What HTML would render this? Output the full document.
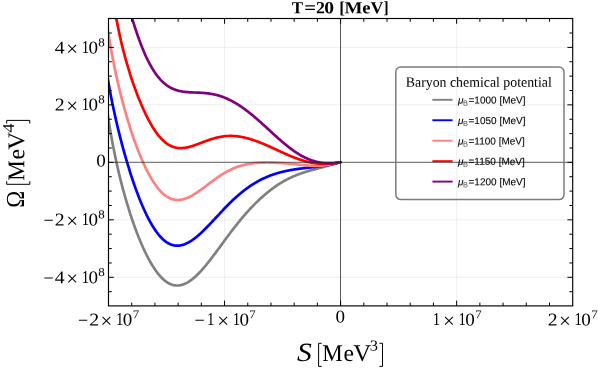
<!DOCTYPE html>
<html><head><meta charset="utf-8"><title>plot</title>
<style>html,body{margin:0;padding:0;background:#fff;}body{width:598px;height:373px;position:relative;overflow:hidden;font-family:"Liberation Serif",serif;}</style>
</head><body>
<svg width="598" height="373" viewBox="0 0 598 373" style="position:absolute;left:0;top:0;text-rendering:geometricPrecision;will-change:transform">
<rect width="598" height="373" fill="#fff"/>
<defs><clipPath id="c"><rect x="108.5" y="18.5" width="464.20000000000005" height="287.4"/></clipPath></defs>
<line x1="224.55" x2="224.55" y1="18.5" y2="305.9" stroke="#e8e8e8" stroke-width="0.7"/>
<line x1="456.65" x2="456.65" y1="18.5" y2="305.9" stroke="#e8e8e8" stroke-width="0.7"/>
<line y1="277.31" y2="277.31" x1="108.5" x2="572.7" stroke="#e8e8e8" stroke-width="0.7"/>
<line y1="219.83" y2="219.83" x1="108.5" x2="572.7" stroke="#e8e8e8" stroke-width="0.7"/>
<line y1="104.87" y2="104.87" x1="108.5" x2="572.7" stroke="#e8e8e8" stroke-width="0.7"/>
<line y1="47.39" y2="47.39" x1="108.5" x2="572.7" stroke="#e8e8e8" stroke-width="0.7"/>
<g clip-path="url(#c)" fill="none" stroke-width="2.7" stroke-linejoin="round" stroke-linecap="round">
<path d="M106.5,106.8 L107.0,110.2 L107.5,113.5 L108.0,116.7 L108.5,119.9 L109.0,123.0 L109.5,126.0 L110.0,129.0 L110.5,131.9 L111.0,134.7 L111.5,137.5 L112.0,140.2 L112.5,142.9 L113.0,145.5 L113.5,148.1 L114.0,150.6 L114.5,153.1 L115.0,155.5 L115.5,157.9 L116.0,160.3 L116.5,162.6 L117.0,164.8 L117.5,167.0 L118.0,169.2 L118.5,171.4 L119.0,173.5 L119.5,175.6 L120.0,177.6 L120.5,179.6 L121.0,181.6 L121.5,183.6 L122.0,185.5 L122.5,187.4 L123.0,189.3 L123.5,191.1 L124.0,192.9 L124.5,194.7 L125.0,196.5 L125.5,198.2 L126.0,199.9 L126.5,201.6 L127.0,203.3 L127.5,204.9 L128.0,206.6 L128.5,208.2 L129.0,209.8 L129.5,211.3 L129.9,212.9 L130.4,214.4 L130.9,215.9 L131.4,217.4 L131.9,218.9 L132.4,220.4 L132.9,221.8 L133.4,223.2 L133.9,224.6 L134.4,226.0 L134.9,227.4 L135.4,228.7 L135.9,230.1 L136.4,231.4 L136.9,232.7 L137.4,234.0 L137.9,235.3 L138.4,236.5 L138.9,237.8 L139.4,239.0 L139.9,240.2 L140.4,241.4 L140.9,242.6 L141.4,243.8 L141.9,244.9 L142.4,246.0 L142.9,247.2 L143.4,248.3 L143.9,249.3 L144.4,250.4 L144.9,251.5 L145.4,252.5 L145.9,253.5 L146.4,254.6 L146.9,255.6 L147.4,256.5 L147.9,257.5 L148.4,258.5 L148.9,259.4 L149.4,260.3 L149.9,261.2 L150.4,262.1 L150.9,263.0 L151.4,263.8 L151.9,264.7 L152.4,265.5 L152.9,266.3 L153.4,267.1 L153.9,267.8 L154.4,268.6 L154.9,269.3 L155.4,270.1 L155.9,270.8 L156.4,271.5 L156.9,272.1 L157.4,272.8 L157.9,273.4 L158.4,274.1 L158.9,274.7 L159.4,275.3 L159.9,275.8 L160.4,276.4 L160.9,277.0 L161.4,277.5 L161.9,278.0 L162.4,278.5 L162.9,279.0 L163.4,279.4 L163.9,279.9 L164.4,280.3 L164.9,280.7 L165.4,281.1 L165.9,281.5 L166.4,281.8 L166.9,282.2 L167.4,282.5 L167.9,282.8 L168.4,283.1 L168.9,283.4 L169.4,283.6 L169.9,283.9 L170.4,284.1 L170.9,284.3 L171.4,284.5 L171.9,284.7 L172.4,284.8 L172.9,285.0 L173.4,285.1 L173.9,285.2 L174.4,285.3 L174.9,285.4 L175.4,285.4 L175.9,285.5 L176.4,285.5 L176.8,285.5 L177.3,285.5 L177.8,285.5 L178.3,285.5 L178.8,285.5 L179.3,285.4 L179.8,285.3 L180.3,285.2 L180.8,285.1 L181.3,285.0 L181.8,284.9 L182.3,284.8 L182.8,284.6 L183.3,284.4 L183.8,284.2 L184.3,284.0 L184.8,283.8 L185.3,283.6 L185.8,283.4 L186.3,283.1 L186.8,282.9 L187.3,282.6 L187.8,282.3 L188.3,282.0 L188.8,281.7 L189.3,281.4 L189.8,281.0 L190.3,280.7 L190.8,280.3 L191.3,279.9 L191.8,279.6 L192.3,279.2 L192.8,278.8 L193.3,278.4 L193.8,277.9 L194.3,277.5 L194.8,277.1 L195.3,276.6 L195.8,276.2 L196.3,275.7 L196.8,275.2 L197.3,274.7 L197.8,274.2 L198.3,273.7 L198.8,273.2 L199.3,272.7 L199.8,272.2 L200.3,271.7 L200.8,271.1 L201.3,270.6 L201.8,270.0 L202.3,269.5 L202.8,268.9 L203.3,268.3 L203.8,267.7 L204.3,267.2 L204.8,266.6 L205.3,266.0 L205.8,265.4 L206.3,264.8 L206.8,264.1 L207.3,263.5 L207.8,262.9 L208.3,262.3 L208.8,261.7 L209.3,261.0 L209.8,260.4 L210.3,259.7 L210.8,259.1 L211.3,258.4 L211.8,257.8 L212.3,257.1 L212.8,256.5 L213.3,255.8 L213.8,255.2 L214.3,254.5 L214.8,253.8 L215.3,253.2 L215.8,252.5 L216.3,251.8 L216.8,251.2 L217.3,250.5 L217.8,249.8 L218.3,249.1 L218.8,248.5 L219.3,247.8 L219.8,247.1 L220.3,246.4 L220.8,245.7 L221.3,245.1 L221.8,244.4 L222.3,243.7 L222.8,243.0 L223.3,242.3 L223.7,241.7 L224.2,241.0 L224.7,240.3 L225.2,239.6 L225.7,239.0 L226.2,238.3 L226.7,237.6 L227.2,237.0 L227.7,236.3 L228.2,235.6 L228.7,234.9 L229.2,234.3 L229.7,233.6 L230.2,233.0 L230.7,232.3 L231.2,231.6 L231.7,231.0 L232.2,230.3 L232.7,229.7 L233.2,229.0 L233.7,228.4 L234.2,227.7 L234.7,227.1 L235.2,226.5 L235.7,225.8 L236.2,225.2 L236.7,224.6 L237.2,223.9 L237.7,223.3 L238.2,222.7 L238.7,222.1 L239.2,221.5 L239.7,220.9 L240.2,220.2 L240.7,219.6 L241.2,219.0 L241.7,218.4 L242.2,217.8 L242.7,217.3 L243.2,216.7 L243.7,216.1 L244.2,215.5 L244.7,214.9 L245.2,214.3 L245.7,213.8 L246.2,213.2 L246.7,212.6 L247.2,212.1 L247.7,211.5 L248.2,211.0 L248.7,210.4 L249.2,209.9 L249.7,209.3 L250.2,208.8 L250.7,208.3 L251.2,207.7 L251.7,207.2 L252.2,206.7 L252.7,206.2 L253.2,205.6 L253.7,205.1 L254.2,204.6 L254.7,204.1 L255.2,203.6 L255.7,203.1 L256.2,202.6 L256.7,202.1 L257.2,201.7 L257.7,201.2 L258.2,200.7 L258.7,200.2 L259.2,199.7 L259.7,199.3 L260.2,198.8 L260.7,198.4 L261.2,197.9 L261.7,197.5 L262.2,197.0 L262.7,196.6 L263.2,196.1 L263.7,195.7 L264.2,195.3 L264.7,194.8 L265.2,194.4 L265.7,194.0 L266.2,193.6 L266.7,193.1 L267.2,192.7 L267.7,192.3 L268.2,191.9 L268.7,191.5 L269.2,191.1 L269.7,190.7 L270.2,190.4 L270.6,190.0 L271.1,189.6 L271.6,189.2 L272.1,188.8 L272.6,188.5 L273.1,188.1 L273.6,187.8 L274.1,187.4 L274.6,187.0 L275.1,186.7 L275.6,186.3 L276.1,186.0 L276.6,185.7 L277.1,185.3 L277.6,185.0 L278.1,184.7 L278.6,184.3 L279.1,184.0 L279.6,183.7 L280.1,183.4 L280.6,183.1 L281.1,182.8 L281.6,182.5 L282.1,182.2 L282.6,181.9 L283.1,181.6 L283.6,181.3 L284.1,181.0 L284.6,180.7 L285.1,180.5 L285.6,180.2 L286.1,179.9 L286.6,179.7 L287.1,179.4 L287.6,179.1 L288.1,178.9 L288.6,178.6 L289.1,178.4 L289.6,178.1 L290.1,177.9 L290.6,177.7 L291.1,177.4 L291.6,177.2 L292.1,177.0 L292.6,176.7 L293.1,176.5 L293.6,176.3 L294.1,176.1 L294.6,175.9 L295.1,175.7 L295.6,175.5 L296.1,175.2 L296.6,175.0 L297.1,174.9 L297.6,174.7 L298.1,174.5 L298.6,174.3 L299.1,174.1 L299.6,173.9 L300.1,173.7 L300.6,173.6 L301.1,173.4 L301.6,173.2 L302.1,173.0 L302.6,172.9 L303.1,172.7 L303.6,172.5 L304.1,172.4 L304.6,172.2 L305.1,172.1 L305.6,171.9 L306.1,171.8 L306.6,171.6 L307.1,171.5 L307.6,171.3 L308.1,171.2 L308.6,171.0 L309.1,170.9 L309.6,170.7 L310.1,170.6 L310.6,170.4 L311.1,170.3 L311.6,170.2 L312.1,170.0 L312.6,169.9 L313.1,169.8 L313.6,169.6 L314.1,169.5 L314.6,169.4 L315.1,169.2 L315.6,169.1 L316.1,169.0 L316.6,168.8 L317.1,168.7 L317.5,168.6 L318.0,168.4 L318.5,168.3 L319.0,168.2 L319.5,168.0 L320.0,167.9 L320.5,167.8 L321.0,167.6 L321.5,167.5 L322.0,167.4 L322.5,167.2 L323.0,167.1 L323.5,167.0 L324.0,166.8 L324.5,166.7 L325.0,166.5 L325.5,166.4 L326.0,166.3 L326.5,166.1 L327.0,166.0 L327.5,165.8 L328.0,165.7 L328.5,165.5 L329.0,165.4 L329.5,165.2 L330.0,165.1 L330.5,165.0 L331.0,164.8 L331.5,164.7 L332.0,164.5 L332.5,164.4 L333.0,164.2 L333.5,164.1 L334.0,163.9 L334.5,163.8 L335.0,163.6 L335.5,163.5 L336.0,163.3 L336.5,163.2 L337.0,163.1 L337.5,162.9 L338.0,162.8 L338.5,162.7 L339.0,162.6 L339.5,162.5 L340.0,162.4 L340.5,162.2" stroke="#808080"/>
<path d="M106.5,71.1 L107.0,74.2 L107.5,77.1 L108.0,80.0 L108.5,82.9 L109.0,85.7 L109.5,88.4 L110.0,91.1 L110.5,93.8 L111.0,96.4 L111.5,98.9 L112.0,101.4 L112.5,103.9 L113.0,106.3 L113.5,108.7 L114.0,111.0 L114.5,113.3 L115.0,115.6 L115.5,117.8 L116.0,120.1 L116.5,122.2 L117.0,124.4 L117.5,126.5 L118.0,128.6 L118.5,130.6 L119.0,132.6 L119.5,134.6 L120.0,136.6 L120.5,138.6 L121.0,140.5 L121.5,142.4 L122.0,144.3 L122.5,146.1 L123.0,148.0 L123.5,149.8 L124.0,151.6 L124.5,153.4 L125.0,155.1 L125.5,156.9 L126.0,158.6 L126.5,160.3 L127.0,162.0 L127.5,163.6 L128.0,165.3 L128.5,166.9 L129.0,168.5 L129.5,170.1 L129.9,171.7 L130.4,173.2 L130.9,174.8 L131.4,176.3 L131.9,177.8 L132.4,179.3 L132.9,180.8 L133.4,182.2 L133.9,183.7 L134.4,185.1 L134.9,186.5 L135.4,187.9 L135.9,189.3 L136.4,190.6 L136.9,192.0 L137.4,193.3 L137.9,194.6 L138.4,195.9 L138.9,197.2 L139.4,198.5 L139.9,199.7 L140.4,201.0 L140.9,202.2 L141.4,203.4 L141.9,204.6 L142.4,205.8 L142.9,206.9 L143.4,208.0 L143.9,209.2 L144.4,210.3 L144.9,211.4 L145.4,212.4 L145.9,213.5 L146.4,214.5 L146.9,215.6 L147.4,216.6 L147.9,217.6 L148.4,218.5 L148.9,219.5 L149.4,220.4 L149.9,221.4 L150.4,222.3 L150.9,223.1 L151.4,224.0 L151.9,224.9 L152.4,225.7 L152.9,226.5 L153.4,227.3 L153.9,228.1 L154.4,228.9 L154.9,229.6 L155.4,230.4 L155.9,231.1 L156.4,231.8 L156.9,232.5 L157.4,233.1 L157.9,233.8 L158.4,234.4 L158.9,235.0 L159.4,235.6 L159.9,236.2 L160.4,236.7 L160.9,237.3 L161.4,237.8 L161.9,238.3 L162.4,238.8 L162.9,239.2 L163.4,239.7 L163.9,240.1 L164.4,240.6 L164.9,241.0 L165.4,241.3 L165.9,241.7 L166.4,242.1 L166.9,242.4 L167.4,242.7 L167.9,243.0 L168.4,243.3 L168.9,243.6 L169.4,243.8 L169.9,244.1 L170.4,244.3 L170.9,244.5 L171.4,244.7 L171.9,244.8 L172.4,245.0 L172.9,245.1 L173.4,245.3 L173.9,245.4 L174.4,245.5 L174.9,245.5 L175.4,245.6 L175.9,245.6 L176.4,245.7 L176.8,245.7 L177.3,245.7 L177.8,245.7 L178.3,245.7 L178.8,245.6 L179.3,245.6 L179.8,245.5 L180.3,245.5 L180.8,245.4 L181.3,245.3 L181.8,245.1 L182.3,245.0 L182.8,244.9 L183.3,244.7 L183.8,244.6 L184.3,244.4 L184.8,244.2 L185.3,244.0 L185.8,243.8 L186.3,243.6 L186.8,243.3 L187.3,243.1 L187.8,242.8 L188.3,242.6 L188.8,242.3 L189.3,242.0 L189.8,241.7 L190.3,241.4 L190.8,241.1 L191.3,240.8 L191.8,240.4 L192.3,240.1 L192.8,239.7 L193.3,239.4 L193.8,239.0 L194.3,238.6 L194.8,238.3 L195.3,237.9 L195.8,237.5 L196.3,237.1 L196.8,236.7 L197.3,236.2 L197.8,235.8 L198.3,235.4 L198.8,235.0 L199.3,234.5 L199.8,234.1 L200.3,233.6 L200.8,233.1 L201.3,232.7 L201.8,232.2 L202.3,231.7 L202.8,231.3 L203.3,230.8 L203.8,230.3 L204.3,229.8 L204.8,229.3 L205.3,228.8 L205.8,228.3 L206.3,227.8 L206.8,227.3 L207.3,226.8 L207.8,226.3 L208.3,225.7 L208.8,225.2 L209.3,224.7 L209.8,224.2 L210.3,223.7 L210.8,223.1 L211.3,222.6 L211.8,222.1 L212.3,221.5 L212.8,221.0 L213.3,220.5 L213.8,219.9 L214.3,219.4 L214.8,218.9 L215.3,218.3 L215.8,217.8 L216.3,217.3 L216.8,216.7 L217.3,216.2 L217.8,215.7 L218.3,215.1 L218.8,214.6 L219.3,214.1 L219.8,213.5 L220.3,213.0 L220.8,212.5 L221.3,211.9 L221.8,211.4 L222.3,210.9 L222.8,210.3 L223.3,209.8 L223.7,209.3 L224.2,208.8 L224.7,208.3 L225.2,207.7 L225.7,207.2 L226.2,206.7 L226.7,206.2 L227.2,205.7 L227.7,205.2 L228.2,204.7 L228.7,204.2 L229.2,203.7 L229.7,203.2 L230.2,202.7 L230.7,202.2 L231.2,201.8 L231.7,201.3 L232.2,200.8 L232.7,200.3 L233.2,199.8 L233.7,199.4 L234.2,198.9 L234.7,198.5 L235.2,198.0 L235.7,197.5 L236.2,197.1 L236.7,196.6 L237.2,196.2 L237.7,195.8 L238.2,195.3 L238.7,194.9 L239.2,194.5 L239.7,194.0 L240.2,193.6 L240.7,193.2 L241.2,192.8 L241.7,192.4 L242.2,192.0 L242.7,191.6 L243.2,191.2 L243.7,190.8 L244.2,190.4 L244.7,190.0 L245.2,189.6 L245.7,189.3 L246.2,188.9 L246.7,188.5 L247.2,188.1 L247.7,187.8 L248.2,187.4 L248.7,187.1 L249.2,186.7 L249.7,186.4 L250.2,186.0 L250.7,185.7 L251.2,185.4 L251.7,185.0 L252.2,184.7 L252.7,184.4 L253.2,184.1 L253.7,183.8 L254.2,183.5 L254.7,183.2 L255.2,182.9 L255.7,182.6 L256.2,182.3 L256.7,182.0 L257.2,181.7 L257.7,181.4 L258.2,181.2 L258.7,180.9 L259.2,180.6 L259.7,180.3 L260.2,180.1 L260.7,179.8 L261.2,179.6 L261.7,179.3 L262.2,179.1 L262.7,178.8 L263.2,178.6 L263.7,178.4 L264.2,178.1 L264.7,177.9 L265.2,177.7 L265.7,177.5 L266.2,177.2 L266.7,177.0 L267.2,176.8 L267.7,176.6 L268.2,176.4 L268.7,176.2 L269.2,176.0 L269.7,175.8 L270.2,175.6 L270.6,175.4 L271.1,175.3 L271.6,175.1 L272.1,174.9 L272.6,174.7 L273.1,174.5 L273.6,174.4 L274.1,174.2 L274.6,174.0 L275.1,173.9 L275.6,173.7 L276.1,173.6 L276.6,173.4 L277.1,173.3 L277.6,173.1 L278.1,173.0 L278.6,172.8 L279.1,172.7 L279.6,172.6 L280.1,172.4 L280.6,172.3 L281.1,172.2 L281.6,172.0 L282.1,171.9 L282.6,171.8 L283.1,171.7 L283.6,171.6 L284.1,171.4 L284.6,171.3 L285.1,171.2 L285.6,171.1 L286.1,171.0 L286.6,170.9 L287.1,170.8 L287.6,170.7 L288.1,170.6 L288.6,170.5 L289.1,170.4 L289.6,170.3 L290.1,170.2 L290.6,170.1 L291.1,170.0 L291.6,169.9 L292.1,169.8 L292.6,169.8 L293.1,169.7 L293.6,169.6 L294.1,169.5 L294.6,169.4 L295.1,169.4 L295.6,169.3 L296.1,169.2 L296.6,169.1 L297.1,169.1 L297.6,169.0 L298.1,168.9 L298.6,168.9 L299.1,168.8 L299.6,168.7 L300.1,168.7 L300.6,168.6 L301.1,168.5 L301.6,168.5 L302.1,168.4 L302.6,168.3 L303.1,168.3 L303.6,168.2 L304.1,168.2 L304.6,168.1 L305.1,168.0 L305.6,168.0 L306.1,167.9 L306.6,167.9 L307.1,167.8 L307.6,167.7 L308.1,167.7 L308.6,167.6 L309.1,167.6 L309.6,167.5 L310.1,167.5 L310.6,167.4 L311.1,167.3 L311.6,167.3 L312.1,167.2 L312.6,167.2 L313.1,167.1 L313.6,167.1 L314.1,167.0 L314.6,166.9 L315.1,166.9 L315.6,166.8 L316.1,166.8 L316.6,166.7 L317.1,166.6 L317.5,166.6 L318.0,166.5 L318.5,166.4 L319.0,166.4 L319.5,166.3 L320.0,166.2 L320.5,166.2 L321.0,166.1 L321.5,166.0 L322.0,166.0 L322.5,165.9 L323.0,165.8 L323.5,165.8 L324.0,165.7 L324.5,165.6 L325.0,165.5 L325.5,165.4 L326.0,165.4 L326.5,165.3 L327.0,165.2 L327.5,165.1 L328.0,165.0 L328.5,164.9 L329.0,164.8 L329.5,164.7 L330.0,164.7 L330.5,164.6 L331.0,164.5 L331.5,164.4 L332.0,164.3 L332.5,164.2 L333.0,164.1 L333.5,163.9 L334.0,163.8 L334.5,163.7 L335.0,163.6 L335.5,163.5 L336.0,163.4 L336.5,163.3 L337.0,163.1 L337.5,163.0 L338.0,162.9 L338.5,162.8 L339.0,162.6 L339.5,162.5 L340.0,162.4 L340.5,162.2" stroke="#0000ff"/>
<path d="M106.5,21.6 L107.0,24.9 L107.5,28.1 L108.0,31.3 L108.5,34.4 L109.0,37.4 L109.5,40.4 L110.0,43.3 L110.5,46.2 L111.0,49.0 L111.5,51.7 L112.0,54.4 L112.5,57.1 L113.0,59.7 L113.5,62.2 L114.0,64.7 L114.5,67.2 L115.0,69.6 L115.5,71.9 L116.0,74.3 L116.5,76.6 L117.0,78.8 L117.5,81.0 L118.0,83.2 L118.5,85.4 L119.0,87.5 L119.5,89.5 L120.0,91.6 L120.5,93.6 L121.0,95.6 L121.5,97.6 L122.0,99.5 L122.5,101.4 L123.0,103.3 L123.5,105.1 L124.0,107.0 L124.5,108.8 L125.0,110.6 L125.5,112.3 L126.0,114.0 L126.5,115.8 L127.0,117.5 L127.5,119.1 L128.0,120.8 L128.5,122.4 L129.0,124.0 L129.5,125.6 L129.9,127.2 L130.4,128.7 L130.9,130.3 L131.4,131.8 L131.9,133.3 L132.4,134.8 L132.9,136.2 L133.4,137.7 L133.9,139.1 L134.4,140.5 L134.9,141.9 L135.4,143.3 L135.9,144.6 L136.4,146.0 L136.9,147.3 L137.4,148.6 L137.9,149.9 L138.4,151.2 L138.9,152.4 L139.4,153.7 L139.9,154.9 L140.4,156.1 L140.9,157.3 L141.4,158.5 L141.9,159.7 L142.4,160.8 L142.9,161.9 L143.4,163.1 L143.9,164.2 L144.4,165.2 L144.9,166.3 L145.4,167.4 L145.9,168.4 L146.4,169.4 L146.9,170.4 L147.4,171.4 L147.9,172.4 L148.4,173.3 L148.9,174.2 L149.4,175.2 L149.9,176.1 L150.4,176.9 L150.9,177.8 L151.4,178.7 L151.9,179.5 L152.4,180.3 L152.9,181.1 L153.4,181.9 L153.9,182.6 L154.4,183.4 L154.9,184.1 L155.4,184.8 L155.9,185.5 L156.4,186.2 L156.9,186.9 L157.4,187.5 L157.9,188.2 L158.4,188.8 L158.9,189.4 L159.4,189.9 L159.9,190.5 L160.4,191.1 L160.9,191.6 L161.4,192.1 L161.9,192.6 L162.4,193.1 L162.9,193.5 L163.4,194.0 L163.9,194.4 L164.4,194.8 L164.9,195.2 L165.4,195.6 L165.9,195.9 L166.4,196.3 L166.9,196.6 L167.4,196.9 L167.9,197.2 L168.4,197.5 L168.9,197.8 L169.4,198.0 L169.9,198.3 L170.4,198.5 L170.9,198.7 L171.4,198.9 L171.9,199.0 L172.4,199.2 L172.9,199.3 L173.4,199.5 L173.9,199.6 L174.4,199.7 L174.9,199.8 L175.4,199.8 L175.9,199.9 L176.4,199.9 L176.8,200.0 L177.3,200.0 L177.8,200.0 L178.3,200.0 L178.8,200.0 L179.3,199.9 L179.8,199.9 L180.3,199.8 L180.8,199.8 L181.3,199.7 L181.8,199.6 L182.3,199.5 L182.8,199.4 L183.3,199.3 L183.8,199.1 L184.3,199.0 L184.8,198.8 L185.3,198.6 L185.8,198.5 L186.3,198.3 L186.8,198.1 L187.3,197.9 L187.8,197.7 L188.3,197.4 L188.8,197.2 L189.3,197.0 L189.8,196.7 L190.3,196.5 L190.8,196.2 L191.3,196.0 L191.8,195.7 L192.3,195.4 L192.8,195.1 L193.3,194.8 L193.8,194.5 L194.3,194.2 L194.8,193.9 L195.3,193.6 L195.8,193.3 L196.3,192.9 L196.8,192.6 L197.3,192.3 L197.8,191.9 L198.3,191.6 L198.8,191.2 L199.3,190.9 L199.8,190.5 L200.3,190.2 L200.8,189.8 L201.3,189.4 L201.8,189.1 L202.3,188.7 L202.8,188.3 L203.3,188.0 L203.8,187.6 L204.3,187.2 L204.8,186.9 L205.3,186.5 L205.8,186.1 L206.3,185.7 L206.8,185.3 L207.3,185.0 L207.8,184.6 L208.3,184.2 L208.8,183.8 L209.3,183.5 L209.8,183.1 L210.3,182.7 L210.8,182.3 L211.3,182.0 L211.8,181.6 L212.3,181.2 L212.8,180.9 L213.3,180.5 L213.8,180.1 L214.3,179.8 L214.8,179.4 L215.3,179.1 L215.8,178.7 L216.3,178.3 L216.8,178.0 L217.3,177.7 L217.8,177.3 L218.3,177.0 L218.8,176.6 L219.3,176.3 L219.8,176.0 L220.3,175.6 L220.8,175.3 L221.3,175.0 L221.8,174.7 L222.3,174.4 L222.8,174.1 L223.3,173.8 L223.7,173.5 L224.2,173.2 L224.7,172.9 L225.2,172.6 L225.7,172.3 L226.2,172.0 L226.7,171.7 L227.2,171.5 L227.7,171.2 L228.2,170.9 L228.7,170.7 L229.2,170.4 L229.7,170.2 L230.2,169.9 L230.7,169.7 L231.2,169.5 L231.7,169.2 L232.2,169.0 L232.7,168.8 L233.2,168.6 L233.7,168.3 L234.2,168.1 L234.7,167.9 L235.2,167.7 L235.7,167.5 L236.2,167.3 L236.7,167.2 L237.2,167.0 L237.7,166.8 L238.2,166.6 L238.7,166.5 L239.2,166.3 L239.7,166.1 L240.2,166.0 L240.7,165.8 L241.2,165.7 L241.7,165.5 L242.2,165.4 L242.7,165.3 L243.2,165.1 L243.7,165.0 L244.2,164.9 L244.7,164.8 L245.2,164.7 L245.7,164.5 L246.2,164.4 L246.7,164.3 L247.2,164.2 L247.7,164.1 L248.2,164.0 L248.7,164.0 L249.2,163.9 L249.7,163.8 L250.2,163.7 L250.7,163.6 L251.2,163.6 L251.7,163.5 L252.2,163.4 L252.7,163.4 L253.2,163.3 L253.7,163.2 L254.2,163.2 L254.7,163.1 L255.2,163.1 L255.7,163.0 L256.2,163.0 L256.7,162.9 L257.2,162.9 L257.7,162.9 L258.2,162.8 L258.7,162.8 L259.2,162.8 L259.7,162.7 L260.2,162.7 L260.7,162.7 L261.2,162.7 L261.7,162.6 L262.2,162.6 L262.7,162.6 L263.2,162.6 L263.7,162.6 L264.2,162.6 L264.7,162.6 L265.2,162.6 L265.7,162.5 L266.2,162.5 L266.7,162.5 L267.2,162.5 L267.7,162.5 L268.2,162.5 L268.7,162.5 L269.2,162.6 L269.7,162.6 L270.2,162.6 L270.6,162.6 L271.1,162.6 L271.6,162.6 L272.1,162.6 L272.6,162.6 L273.1,162.6 L273.6,162.7 L274.1,162.7 L274.6,162.7 L275.1,162.7 L275.6,162.7 L276.1,162.8 L276.6,162.8 L277.1,162.8 L277.6,162.8 L278.1,162.8 L278.6,162.9 L279.1,162.9 L279.6,162.9 L280.1,163.0 L280.6,163.0 L281.1,163.0 L281.6,163.1 L282.1,163.1 L282.6,163.1 L283.1,163.2 L283.6,163.2 L284.1,163.2 L284.6,163.3 L285.1,163.3 L285.6,163.3 L286.1,163.4 L286.6,163.4 L287.1,163.5 L287.6,163.5 L288.1,163.6 L288.6,163.6 L289.1,163.6 L289.6,163.7 L290.1,163.7 L290.6,163.8 L291.1,163.8 L291.6,163.9 L292.1,163.9 L292.6,164.0 L293.1,164.0 L293.6,164.1 L294.1,164.1 L294.6,164.2 L295.1,164.2 L295.6,164.3 L296.1,164.3 L296.6,164.4 L297.1,164.4 L297.6,164.5 L298.1,164.5 L298.6,164.6 L299.1,164.6 L299.6,164.7 L300.1,164.7 L300.6,164.8 L301.1,164.8 L301.6,164.9 L302.1,164.9 L302.6,165.0 L303.1,165.0 L303.6,165.1 L304.1,165.1 L304.6,165.2 L305.1,165.2 L305.6,165.3 L306.1,165.3 L306.6,165.4 L307.1,165.4 L307.6,165.4 L308.1,165.5 L308.6,165.5 L309.1,165.6 L309.6,165.6 L310.1,165.6 L310.6,165.7 L311.1,165.7 L311.6,165.7 L312.1,165.7 L312.6,165.8 L313.1,165.8 L313.6,165.8 L314.1,165.8 L314.6,165.8 L315.1,165.8 L315.6,165.8 L316.1,165.8 L316.6,165.8 L317.1,165.8 L317.5,165.8 L318.0,165.8 L318.5,165.8 L319.0,165.8 L319.5,165.8 L320.0,165.7 L320.5,165.7 L321.0,165.7 L321.5,165.6 L322.0,165.6 L322.5,165.5 L323.0,165.5 L323.5,165.4 L324.0,165.4 L324.5,165.3 L325.0,165.3 L325.5,165.2 L326.0,165.1 L326.5,165.0 L327.0,164.9 L327.5,164.9 L328.0,164.8 L328.5,164.7 L329.0,164.6 L329.5,164.5 L330.0,164.4 L330.5,164.3 L331.0,164.2 L331.5,164.1 L332.0,163.9 L332.5,163.8 L333.0,163.7 L333.5,163.6 L334.0,163.5 L334.5,163.4 L335.0,163.3 L335.5,163.1 L336.0,163.0 L336.5,162.9 L337.0,162.8 L337.5,162.7 L338.0,162.6 L338.5,162.5 L339.0,162.5 L339.5,162.4 L340.0,162.3 L340.5,162.2" stroke="#ff8080"/>
<path d="M108.5,-36.4 L109.0,-31.9 L109.5,-27.7 L110.0,-23.5 L110.5,-19.5 L111.0,-15.7 L111.5,-12.0 L112.0,-8.4 L112.5,-4.9 L113.0,-1.5 L113.5,1.7 L114.0,4.9 L114.5,8.0 L115.0,10.9 L115.5,13.8 L116.0,16.6 L116.5,19.4 L117.0,22.0 L117.5,24.6 L118.0,27.1 L118.5,29.6 L119.0,31.9 L119.5,34.3 L120.0,36.5 L120.5,38.8 L121.0,40.9 L121.5,43.1 L122.0,45.1 L122.5,47.2 L123.0,49.2 L123.5,51.1 L124.0,53.0 L124.5,54.9 L125.0,56.8 L125.5,58.6 L126.0,60.3 L126.5,62.1 L127.0,63.8 L127.5,65.5 L128.0,67.2 L128.5,68.8 L129.0,70.4 L129.5,72.0 L129.9,73.6 L130.4,75.2 L130.9,76.7 L131.4,78.2 L131.9,79.7 L132.4,81.2 L132.9,82.6 L133.4,84.0 L133.9,85.5 L134.4,86.8 L134.9,88.2 L135.4,89.6 L135.9,90.9 L136.4,92.3 L136.9,93.6 L137.4,94.9 L137.9,96.2 L138.4,97.4 L138.9,98.7 L139.4,99.9 L139.9,101.1 L140.4,102.3 L140.9,103.5 L141.4,104.7 L141.9,105.9 L142.4,107.0 L142.9,108.1 L143.4,109.3 L143.9,110.4 L144.4,111.4 L144.9,112.5 L145.4,113.6 L145.9,114.6 L146.4,115.6 L146.9,116.6 L147.4,117.6 L147.9,118.6 L148.4,119.6 L148.9,120.5 L149.4,121.4 L149.9,122.3 L150.4,123.2 L150.9,124.1 L151.4,125.0 L151.9,125.8 L152.4,126.7 L152.9,127.5 L153.4,128.3 L153.9,129.1 L154.4,129.8 L154.9,130.6 L155.4,131.3 L155.9,132.0 L156.4,132.7 L156.9,133.4 L157.4,134.1 L157.9,134.7 L158.4,135.3 L158.9,136.0 L159.4,136.6 L159.9,137.1 L160.4,137.7 L160.9,138.3 L161.4,138.8 L161.9,139.3 L162.4,139.8 L162.9,140.3 L163.4,140.8 L163.9,141.2 L164.4,141.7 L164.9,142.1 L165.4,142.5 L165.9,142.9 L166.4,143.3 L166.9,143.6 L167.4,144.0 L167.9,144.3 L168.4,144.6 L168.9,144.9 L169.4,145.2 L169.9,145.5 L170.4,145.7 L170.9,146.0 L171.4,146.2 L171.9,146.4 L172.4,146.6 L172.9,146.8 L173.4,147.0 L173.9,147.1 L174.4,147.3 L174.9,147.4 L175.4,147.5 L175.9,147.6 L176.4,147.7 L176.8,147.8 L177.3,147.9 L177.8,148.0 L178.3,148.0 L178.8,148.0 L179.3,148.1 L179.8,148.1 L180.3,148.1 L180.8,148.1 L181.3,148.1 L181.8,148.1 L182.3,148.1 L182.8,148.0 L183.3,148.0 L183.8,147.9 L184.3,147.9 L184.8,147.8 L185.3,147.7 L185.8,147.6 L186.3,147.6 L186.8,147.5 L187.3,147.4 L187.8,147.2 L188.3,147.1 L188.8,147.0 L189.3,146.9 L189.8,146.7 L190.3,146.6 L190.8,146.5 L191.3,146.3 L191.8,146.2 L192.3,146.0 L192.8,145.9 L193.3,145.7 L193.8,145.5 L194.3,145.4 L194.8,145.2 L195.3,145.0 L195.8,144.8 L196.3,144.7 L196.8,144.5 L197.3,144.3 L197.8,144.1 L198.3,143.9 L198.8,143.7 L199.3,143.5 L199.8,143.3 L200.3,143.2 L200.8,143.0 L201.3,142.8 L201.8,142.6 L202.3,142.4 L202.8,142.2 L203.3,142.0 L203.8,141.8 L204.3,141.6 L204.8,141.5 L205.3,141.3 L205.8,141.1 L206.3,140.9 L206.8,140.7 L207.3,140.5 L207.8,140.4 L208.3,140.2 L208.8,140.0 L209.3,139.8 L209.8,139.7 L210.3,139.5 L210.8,139.3 L211.3,139.2 L211.8,139.0 L212.3,138.9 L212.8,138.7 L213.3,138.6 L213.8,138.4 L214.3,138.3 L214.8,138.2 L215.3,138.0 L215.8,137.9 L216.3,137.8 L216.8,137.6 L217.3,137.5 L217.8,137.4 L218.3,137.3 L218.8,137.2 L219.3,137.1 L219.8,137.0 L220.3,136.9 L220.8,136.8 L221.3,136.7 L221.8,136.6 L222.3,136.6 L222.8,136.5 L223.3,136.4 L223.7,136.3 L224.2,136.3 L224.7,136.2 L225.2,136.2 L225.7,136.1 L226.2,136.1 L226.7,136.1 L227.2,136.0 L227.7,136.0 L228.2,136.0 L228.7,136.0 L229.2,135.9 L229.7,135.9 L230.2,135.9 L230.7,135.9 L231.2,135.9 L231.7,135.9 L232.2,135.9 L232.7,136.0 L233.2,136.0 L233.7,136.0 L234.2,136.0 L234.7,136.1 L235.2,136.1 L235.7,136.1 L236.2,136.2 L236.7,136.2 L237.2,136.3 L237.7,136.4 L238.2,136.4 L238.7,136.5 L239.2,136.6 L239.7,136.6 L240.2,136.7 L240.7,136.8 L241.2,136.9 L241.7,137.0 L242.2,137.1 L242.7,137.2 L243.2,137.3 L243.7,137.4 L244.2,137.5 L244.7,137.6 L245.2,137.7 L245.7,137.8 L246.2,138.0 L246.7,138.1 L247.2,138.2 L247.7,138.4 L248.2,138.5 L248.7,138.6 L249.2,138.8 L249.7,138.9 L250.2,139.1 L250.7,139.2 L251.2,139.4 L251.7,139.5 L252.2,139.7 L252.7,139.8 L253.2,140.0 L253.7,140.2 L254.2,140.4 L254.7,140.5 L255.2,140.7 L255.7,140.9 L256.2,141.1 L256.7,141.2 L257.2,141.4 L257.7,141.6 L258.2,141.8 L258.7,142.0 L259.2,142.2 L259.7,142.4 L260.2,142.6 L260.7,142.8 L261.2,143.0 L261.7,143.2 L262.2,143.4 L262.7,143.6 L263.2,143.8 L263.7,144.0 L264.2,144.2 L264.7,144.4 L265.2,144.6 L265.7,144.9 L266.2,145.1 L266.7,145.3 L267.2,145.5 L267.7,145.7 L268.2,146.0 L268.7,146.2 L269.2,146.4 L269.7,146.6 L270.2,146.8 L270.6,147.1 L271.1,147.3 L271.6,147.5 L272.1,147.8 L272.6,148.0 L273.1,148.2 L273.6,148.4 L274.1,148.7 L274.6,148.9 L275.1,149.1 L275.6,149.4 L276.1,149.6 L276.6,149.8 L277.1,150.0 L277.6,150.3 L278.1,150.5 L278.6,150.7 L279.1,151.0 L279.6,151.2 L280.1,151.4 L280.6,151.7 L281.1,151.9 L281.6,152.1 L282.1,152.3 L282.6,152.6 L283.1,152.8 L283.6,153.0 L284.1,153.2 L284.6,153.5 L285.1,153.7 L285.6,153.9 L286.1,154.1 L286.6,154.4 L287.1,154.6 L287.6,154.8 L288.1,155.0 L288.6,155.2 L289.1,155.4 L289.6,155.7 L290.1,155.9 L290.6,156.1 L291.1,156.3 L291.6,156.5 L292.1,156.7 L292.6,156.9 L293.1,157.1 L293.6,157.3 L294.1,157.5 L294.6,157.7 L295.1,157.9 L295.6,158.1 L296.1,158.3 L296.6,158.4 L297.1,158.6 L297.6,158.8 L298.1,159.0 L298.6,159.2 L299.1,159.3 L299.6,159.5 L300.1,159.7 L300.6,159.8 L301.1,160.0 L301.6,160.2 L302.1,160.3 L302.6,160.5 L303.1,160.6 L303.6,160.8 L304.1,160.9 L304.6,161.1 L305.1,161.2 L305.6,161.3 L306.1,161.5 L306.6,161.6 L307.1,161.7 L307.6,161.8 L308.1,162.0 L308.6,162.1 L309.1,162.2 L309.6,162.3 L310.1,162.4 L310.6,162.5 L311.1,162.6 L311.6,162.7 L312.1,162.8 L312.6,162.9 L313.1,163.0 L313.6,163.0 L314.1,163.1 L314.6,163.2 L315.1,163.3 L315.6,163.3 L316.1,163.4 L316.6,163.4 L317.1,163.5 L317.5,163.5 L318.0,163.6 L318.5,163.6 L319.0,163.7 L319.5,163.7 L320.0,163.7 L320.5,163.8 L321.0,163.8 L321.5,163.8 L322.0,163.8 L322.5,163.8 L323.0,163.8 L323.5,163.9 L324.0,163.9 L324.5,163.9 L325.0,163.8 L325.5,163.8 L326.0,163.8 L326.5,163.8 L327.0,163.8 L327.5,163.8 L328.0,163.8 L328.5,163.7 L329.0,163.7 L329.5,163.7 L330.0,163.6 L330.5,163.6 L331.0,163.6 L331.5,163.5 L332.0,163.5 L332.5,163.4 L333.0,163.4 L333.5,163.3 L334.0,163.2 L334.5,163.2 L335.0,163.1 L335.5,163.1 L336.0,163.0 L336.5,162.9 L337.0,162.8 L337.5,162.8 L338.0,162.7 L338.5,162.6 L339.0,162.5 L339.5,162.4 L340.0,162.3 L340.5,162.2" stroke="#ff0000"/>
<path d="M117.0,-39.1 L117.5,-37.0 L118.0,-34.9 L118.5,-32.9 L119.0,-30.8 L119.5,-28.8 L120.0,-26.8 L120.5,-24.7 L121.0,-22.7 L121.5,-20.8 L122.0,-18.8 L122.5,-16.8 L123.0,-14.9 L123.5,-12.9 L124.0,-11.0 L124.5,-9.1 L125.0,-7.2 L125.5,-5.3 L126.0,-3.4 L126.5,-1.6 L127.0,0.3 L127.5,2.1 L128.0,3.9 L128.5,5.7 L129.0,7.4 L129.5,9.2 L129.9,10.9 L130.4,12.6 L130.9,14.3 L131.4,16.0 L131.9,17.7 L132.4,19.3 L132.9,21.0 L133.4,22.6 L133.9,24.1 L134.4,25.7 L134.9,27.3 L135.4,28.8 L135.9,30.3 L136.4,31.8 L136.9,33.3 L137.4,34.7 L137.9,36.1 L138.4,37.5 L138.9,38.9 L139.4,40.3 L139.9,41.6 L140.4,43.0 L140.9,44.3 L141.4,45.6 L141.9,46.8 L142.4,48.1 L142.9,49.3 L143.4,50.5 L143.9,51.7 L144.4,52.8 L144.9,54.0 L145.4,55.1 L145.9,56.2 L146.4,57.3 L146.9,58.3 L147.4,59.4 L147.9,60.4 L148.4,61.4 L148.9,62.3 L149.4,63.3 L149.9,64.2 L150.4,65.1 L150.9,66.0 L151.4,66.9 L151.9,67.8 L152.4,68.6 L152.9,69.4 L153.4,70.2 L153.9,71.0 L154.4,71.8 L154.9,72.5 L155.4,73.3 L155.9,74.0 L156.4,74.7 L156.9,75.3 L157.4,76.0 L157.9,76.6 L158.4,77.2 L158.9,77.8 L159.4,78.4 L159.9,79.0 L160.4,79.6 L160.9,80.1 L161.4,80.6 L161.9,81.1 L162.4,81.6 L162.9,82.1 L163.4,82.5 L163.9,83.0 L164.4,83.4 L164.9,83.8 L165.4,84.2 L165.9,84.6 L166.4,85.0 L166.9,85.4 L167.4,85.7 L167.9,86.1 L168.4,86.4 L168.9,86.7 L169.4,87.0 L169.9,87.3 L170.4,87.6 L170.9,87.9 L171.4,88.1 L171.9,88.4 L172.4,88.6 L172.9,88.8 L173.4,89.0 L173.9,89.2 L174.4,89.4 L174.9,89.6 L175.4,89.8 L175.9,90.0 L176.4,90.1 L176.8,90.3 L177.3,90.4 L177.8,90.6 L178.3,90.7 L178.8,90.8 L179.3,91.0 L179.8,91.1 L180.3,91.2 L180.8,91.3 L181.3,91.4 L181.8,91.5 L182.3,91.5 L182.8,91.6 L183.3,91.7 L183.8,91.8 L184.3,91.8 L184.8,91.9 L185.3,91.9 L185.8,92.0 L186.3,92.0 L186.8,92.1 L187.3,92.1 L187.8,92.2 L188.3,92.2 L188.8,92.2 L189.3,92.3 L189.8,92.3 L190.3,92.3 L190.8,92.3 L191.3,92.4 L191.8,92.4 L192.3,92.4 L192.8,92.4 L193.3,92.5 L193.8,92.5 L194.3,92.5 L194.8,92.5 L195.3,92.5 L195.8,92.6 L196.3,92.6 L196.8,92.6 L197.3,92.6 L197.8,92.6 L198.3,92.7 L198.8,92.7 L199.3,92.7 L199.8,92.7 L200.3,92.7 L200.8,92.8 L201.3,92.8 L201.8,92.8 L202.3,92.9 L202.8,92.9 L203.3,92.9 L203.8,93.0 L204.3,93.0 L204.8,93.1 L205.3,93.1 L205.8,93.2 L206.3,93.2 L206.8,93.3 L207.3,93.3 L207.8,93.4 L208.3,93.4 L208.8,93.5 L209.3,93.6 L209.8,93.7 L210.3,93.7 L210.8,93.8 L211.3,93.9 L211.8,94.0 L212.3,94.1 L212.8,94.2 L213.3,94.3 L213.8,94.4 L214.3,94.5 L214.8,94.6 L215.3,94.7 L215.8,94.8 L216.3,94.9 L216.8,95.1 L217.3,95.2 L217.8,95.3 L218.3,95.5 L218.8,95.6 L219.3,95.8 L219.8,95.9 L220.3,96.1 L220.8,96.2 L221.3,96.4 L221.8,96.6 L222.3,96.8 L222.8,96.9 L223.3,97.1 L223.7,97.3 L224.2,97.5 L224.7,97.7 L225.2,97.9 L225.7,98.1 L226.2,98.3 L226.7,98.5 L227.2,98.8 L227.7,99.0 L228.2,99.2 L228.7,99.4 L229.2,99.7 L229.7,99.9 L230.2,100.2 L230.7,100.4 L231.2,100.7 L231.7,100.9 L232.2,101.2 L232.7,101.5 L233.2,101.7 L233.7,102.0 L234.2,102.3 L234.7,102.6 L235.2,102.9 L235.7,103.2 L236.2,103.5 L236.7,103.8 L237.2,104.1 L237.7,104.4 L238.2,104.7 L238.7,105.0 L239.2,105.3 L239.7,105.7 L240.2,106.0 L240.7,106.3 L241.2,106.7 L241.7,107.0 L242.2,107.4 L242.7,107.7 L243.2,108.1 L243.7,108.4 L244.2,108.8 L244.7,109.2 L245.2,109.5 L245.7,109.9 L246.2,110.3 L246.7,110.6 L247.2,111.0 L247.7,111.4 L248.2,111.8 L248.7,112.2 L249.2,112.6 L249.7,113.0 L250.2,113.4 L250.7,113.8 L251.2,114.2 L251.7,114.6 L252.2,115.0 L252.7,115.4 L253.2,115.8 L253.7,116.2 L254.2,116.7 L254.7,117.1 L255.2,117.5 L255.7,117.9 L256.2,118.4 L256.7,118.8 L257.2,119.2 L257.7,119.7 L258.2,120.1 L258.7,120.5 L259.2,121.0 L259.7,121.4 L260.2,121.9 L260.7,122.3 L261.2,122.8 L261.7,123.2 L262.2,123.7 L262.7,124.1 L263.2,124.6 L263.7,125.0 L264.2,125.5 L264.7,125.9 L265.2,126.4 L265.7,126.8 L266.2,127.3 L266.7,127.7 L267.2,128.2 L267.7,128.6 L268.2,129.1 L268.7,129.6 L269.2,130.0 L269.7,130.5 L270.2,130.9 L270.6,131.4 L271.1,131.9 L271.6,132.3 L272.1,132.8 L272.6,133.2 L273.1,133.7 L273.6,134.1 L274.1,134.6 L274.6,135.0 L275.1,135.5 L275.6,135.9 L276.1,136.4 L276.6,136.8 L277.1,137.3 L277.6,137.7 L278.1,138.2 L278.6,138.6 L279.1,139.1 L279.6,139.5 L280.1,139.9 L280.6,140.4 L281.1,140.8 L281.6,141.2 L282.1,141.7 L282.6,142.1 L283.1,142.5 L283.6,142.9 L284.1,143.4 L284.6,143.8 L285.1,144.2 L285.6,144.6 L286.1,145.0 L286.6,145.4 L287.1,145.8 L287.6,146.2 L288.1,146.6 L288.6,147.0 L289.1,147.4 L289.6,147.8 L290.1,148.2 L290.6,148.5 L291.1,148.9 L291.6,149.3 L292.1,149.7 L292.6,150.0 L293.1,150.4 L293.6,150.7 L294.1,151.1 L294.6,151.4 L295.1,151.8 L295.6,152.1 L296.1,152.4 L296.6,152.8 L297.1,153.1 L297.6,153.4 L298.1,153.7 L298.6,154.0 L299.1,154.4 L299.6,154.7 L300.1,154.9 L300.6,155.2 L301.1,155.5 L301.6,155.8 L302.1,156.1 L302.6,156.4 L303.1,156.6 L303.6,156.9 L304.1,157.1 L304.6,157.4 L305.1,157.6 L305.6,157.9 L306.1,158.1 L306.6,158.3 L307.1,158.6 L307.6,158.8 L308.1,159.0 L308.6,159.2 L309.1,159.4 L309.6,159.6 L310.1,159.8 L310.6,160.0 L311.1,160.2 L311.6,160.3 L312.1,160.5 L312.6,160.7 L313.1,160.8 L313.6,161.0 L314.1,161.1 L314.6,161.3 L315.1,161.4 L315.6,161.5 L316.1,161.7 L316.6,161.8 L317.1,161.9 L317.5,162.0 L318.0,162.1 L318.5,162.2 L319.0,162.3 L319.5,162.4 L320.0,162.5 L320.5,162.6 L321.0,162.7 L321.5,162.7 L322.0,162.8 L322.5,162.9 L323.0,162.9 L323.5,163.0 L324.0,163.0 L324.5,163.0 L325.0,163.1 L325.5,163.1 L326.0,163.2 L326.5,163.2 L327.0,163.2 L327.5,163.2 L328.0,163.2 L328.5,163.2 L329.0,163.2 L329.5,163.2 L330.0,163.2 L330.5,163.2 L331.0,163.2 L331.5,163.2 L332.0,163.2 L332.5,163.1 L333.0,163.1 L333.5,163.1 L334.0,163.1 L334.5,163.0 L335.0,163.0 L335.5,162.9 L336.0,162.9 L336.5,162.8 L337.0,162.8 L337.5,162.7 L338.0,162.6 L338.5,162.6 L339.0,162.5 L339.5,162.4 L340.0,162.3 L340.5,162.2" stroke="#800080"/>
</g>
<line x1="340.5" x2="340.5" y1="18.5" y2="305.9" stroke="#222" stroke-width="0.75"/>
<line y1="162.3" y2="162.3" x1="108.5" x2="572.7" stroke="#222" stroke-width="0.75"/>
<rect x="108.5" y="18.5" width="464.20" height="287.40" fill="none" stroke="#000" stroke-width="1.15"/>
<path d="M131.71,305.9v-3.3M131.71,18.5v3.3M154.92,305.9v-3.3M154.92,18.5v3.3M178.13,305.9v-3.3M178.13,18.5v3.3M201.34,305.9v-3.3M201.34,18.5v3.3M224.55,305.9v-5.3M224.55,18.5v5.3M247.76,305.9v-3.3M247.76,18.5v3.3M270.97,305.9v-3.3M270.97,18.5v3.3M294.18,305.9v-3.3M294.18,18.5v3.3M317.39,305.9v-3.3M317.39,18.5v3.3M340.60,305.9v-5.3M340.60,18.5v5.3M363.81,305.9v-3.3M363.81,18.5v3.3M387.02,305.9v-3.3M387.02,18.5v3.3M410.23,305.9v-3.3M410.23,18.5v3.3M433.44,305.9v-3.3M433.44,18.5v3.3M456.65,305.9v-5.3M456.65,18.5v5.3M479.86,305.9v-3.3M479.86,18.5v3.3M503.07,305.9v-3.3M503.07,18.5v3.3M526.28,305.9v-3.3M526.28,18.5v3.3M549.49,305.9v-3.3M549.49,18.5v3.3M108.5,291.68h3.3M572.7,291.68h-3.3M108.5,277.31h5.3M572.7,277.31h-5.3M108.5,262.94h3.3M572.7,262.94h-3.3M108.5,248.57h3.3M572.7,248.57h-3.3M108.5,234.20h3.3M572.7,234.20h-3.3M108.5,219.83h5.3M572.7,219.83h-5.3M108.5,205.46h3.3M572.7,205.46h-3.3M108.5,191.09h3.3M572.7,191.09h-3.3M108.5,176.72h3.3M572.7,176.72h-3.3M108.5,162.35h5.3M572.7,162.35h-5.3M108.5,147.98h3.3M572.7,147.98h-3.3M108.5,133.61h3.3M572.7,133.61h-3.3M108.5,119.24h3.3M572.7,119.24h-3.3M108.5,104.87h5.3M572.7,104.87h-5.3M108.5,90.50h3.3M572.7,90.50h-3.3M108.5,76.13h3.3M572.7,76.13h-3.3M108.5,61.76h3.3M572.7,61.76h-3.3M108.5,47.39h5.3M572.7,47.39h-5.3M108.5,33.02h3.3M572.7,33.02h-3.3" stroke="#000" stroke-width="1" fill="none"/>
<text transform="translate(77.97,326.20) rotate(0.03)" font-family="Liberation Serif" font-size="18" >−</text><text transform="translate(89.15,325.40) rotate(0.03) scale(1.1,1.0)" font-family="Liberation Serif" font-size="18" >2</text><text transform="translate(100.54,327.80) rotate(0.03)" font-family="Liberation Serif" font-size="21" >×</text><text transform="translate(116.07,325.40) rotate(0.03) scale(0.82,1.0)" font-family="Liberation Serif" font-size="18" >1</text><text transform="translate(122.82,325.40) rotate(0.03) scale(1.06,1.0)" font-family="Liberation Serif" font-size="18" >0</text><text transform="translate(132.71,318.20) rotate(0.03) scale(1.08,1.0)" font-family="Liberation Serif" font-size="12" >7</text>
<text transform="translate(194.62,326.20) rotate(0.03)" font-family="Liberation Serif" font-size="18" >−</text><text transform="translate(207.02,325.40) rotate(0.03) scale(0.82,1.0)" font-family="Liberation Serif" font-size="18" >1</text><text transform="translate(217.19,327.80) rotate(0.03)" font-family="Liberation Serif" font-size="21" >×</text><text transform="translate(232.72,325.40) rotate(0.03) scale(0.82,1.0)" font-family="Liberation Serif" font-size="18" >1</text><text transform="translate(239.47,325.40) rotate(0.03) scale(1.06,1.0)" font-family="Liberation Serif" font-size="18" >0</text><text transform="translate(249.36,318.20) rotate(0.03) scale(1.08,1.0)" font-family="Liberation Serif" font-size="12" >7</text>
<text transform="translate(432.87,325.40) rotate(0.03) scale(0.82,1.0)" font-family="Liberation Serif" font-size="18" >1</text><text transform="translate(443.04,327.80) rotate(0.03)" font-family="Liberation Serif" font-size="21" >×</text><text transform="translate(458.57,325.40) rotate(0.03) scale(0.82,1.0)" font-family="Liberation Serif" font-size="18" >1</text><text transform="translate(465.32,325.40) rotate(0.03) scale(1.06,1.0)" font-family="Liberation Serif" font-size="18" >0</text><text transform="translate(475.21,318.20) rotate(0.03) scale(1.08,1.0)" font-family="Liberation Serif" font-size="12" >7</text>
<text transform="translate(547.70,325.40) rotate(0.03) scale(1.1,1.0)" font-family="Liberation Serif" font-size="18" >2</text><text transform="translate(559.09,327.80) rotate(0.03)" font-family="Liberation Serif" font-size="21" >×</text><text transform="translate(574.62,325.40) rotate(0.03) scale(0.82,1.0)" font-family="Liberation Serif" font-size="18" >1</text><text transform="translate(581.37,325.40) rotate(0.03) scale(1.06,1.0)" font-family="Liberation Serif" font-size="18" >0</text><text transform="translate(591.26,318.20) rotate(0.03) scale(1.08,1.0)" font-family="Liberation Serif" font-size="12" >7</text>
<text transform="translate(335.57,322.50) rotate(0.03) scale(1.06,1.0)" font-family="Liberation Serif" font-size="18" >0</text>
<text transform="translate(54.80,53.40) rotate(0.03) scale(1.1,1.0)" font-family="Liberation Serif" font-size="18" >4</text><text transform="translate(66.19,55.80) rotate(0.03)" font-family="Liberation Serif" font-size="21" >×</text><text transform="translate(81.72,53.40) rotate(0.03) scale(0.82,1.0)" font-family="Liberation Serif" font-size="18" >1</text><text transform="translate(88.47,53.40) rotate(0.03) scale(1.06,1.0)" font-family="Liberation Serif" font-size="18" >0</text><text transform="translate(98.36,46.20) rotate(0.03) scale(1.08,1.0)" font-family="Liberation Serif" font-size="12" >8</text>
<text transform="translate(54.80,110.40) rotate(0.03) scale(1.1,1.0)" font-family="Liberation Serif" font-size="18" >2</text><text transform="translate(66.19,112.80) rotate(0.03)" font-family="Liberation Serif" font-size="21" >×</text><text transform="translate(81.72,110.40) rotate(0.03) scale(0.82,1.0)" font-family="Liberation Serif" font-size="18" >1</text><text transform="translate(88.47,110.40) rotate(0.03) scale(1.06,1.0)" font-family="Liberation Serif" font-size="18" >0</text><text transform="translate(98.36,103.20) rotate(0.03) scale(1.08,1.0)" font-family="Liberation Serif" font-size="12" >8</text>
<text transform="translate(43.62,226.20) rotate(0.03)" font-family="Liberation Serif" font-size="18" >−</text><text transform="translate(54.80,225.40) rotate(0.03) scale(1.1,1.0)" font-family="Liberation Serif" font-size="18" >2</text><text transform="translate(66.19,227.80) rotate(0.03)" font-family="Liberation Serif" font-size="21" >×</text><text transform="translate(81.72,225.40) rotate(0.03) scale(0.82,1.0)" font-family="Liberation Serif" font-size="18" >1</text><text transform="translate(88.47,225.40) rotate(0.03) scale(1.06,1.0)" font-family="Liberation Serif" font-size="18" >0</text><text transform="translate(98.36,218.20) rotate(0.03) scale(1.08,1.0)" font-family="Liberation Serif" font-size="12" >8</text>
<text transform="translate(43.62,284.00) rotate(0.03)" font-family="Liberation Serif" font-size="18" >−</text><text transform="translate(54.80,283.20) rotate(0.03) scale(1.1,1.0)" font-family="Liberation Serif" font-size="18" >4</text><text transform="translate(66.19,285.60) rotate(0.03)" font-family="Liberation Serif" font-size="21" >×</text><text transform="translate(81.72,283.20) rotate(0.03) scale(0.82,1.0)" font-family="Liberation Serif" font-size="18" >1</text><text transform="translate(88.47,283.20) rotate(0.03) scale(1.06,1.0)" font-family="Liberation Serif" font-size="18" >0</text><text transform="translate(98.36,276.00) rotate(0.03) scale(1.08,1.0)" font-family="Liberation Serif" font-size="12" >8</text>
<text transform="translate(96.17,166.50) rotate(0.03) scale(1.06,1.0)" font-family="Liberation Serif" font-size="18" >0</text>
<text transform="translate(291.85,13.30) rotate(0.03)" font-family="Liberation Serif" font-size="17" font-weight="bold">T</text>
<text transform="translate(304.18,13.30) rotate(0.03) scale(1.22,1.0)" font-family="Liberation Serif" font-size="17" font-weight="bold">=</text>
<text transform="translate(315.95,13.30) rotate(0.03) scale(1.05,1.0)" font-family="Liberation Serif" font-size="17" font-weight="bold">2</text>
<text transform="translate(324.26,13.30) rotate(0.03) scale(1.15,1.0)" font-family="Liberation Serif" font-size="17" font-weight="bold">0</text>
<text transform="translate(339.34,13.30) rotate(0.03)" font-family="Liberation Serif" font-size="17" font-weight="bold">[</text>
<text transform="translate(344.58,13.30) rotate(0.03) scale(1.12,1.0)" font-family="Liberation Serif" font-size="17" font-weight="bold">M</text>
<text transform="translate(362.27,13.30) rotate(0.03) scale(1.09,1.0)" font-family="Liberation Serif" font-size="17" font-weight="bold">e</text>
<text transform="translate(370.50,13.30) rotate(0.03) scale(1.05,1.0)" font-family="Liberation Serif" font-size="17" font-weight="bold">V</text>
<text transform="translate(383.45,13.30) rotate(0.03) scale(0.9,1.0)" font-family="Liberation Serif" font-size="17" font-weight="bold">]</text>
<g transform="translate(297.1,360.9)"><text transform="translate(-0.20,0.00) rotate(0.03) scale(1.125,1.0)" font-family="Liberation Serif" font-size="26.3" font-style="italic">S</text><path d="M24.6,-17.6H21.5V5.5H24.6" fill="none" stroke="#000" stroke-width="1.0"/><text transform="translate(25.15,0.00) rotate(0.03) scale(0.96,1.0)" font-family="Liberation Serif" font-size="24" >M</text><text transform="translate(46.28,0.00) rotate(0.03) scale(0.98,1.0)" font-family="Liberation Serif" font-size="24" >e</text><text transform="translate(56.03,0.00) rotate(0.03) scale(1.03,1.0)" font-family="Liberation Serif" font-size="24" >V</text><text transform="translate(72.70,-10.50) rotate(0.03) scale(1.09,1.0)" font-family="Liberation Serif" font-size="15.2" >3</text><path d="M82.3,-17.6H85.4V5.5H82.3" fill="none" stroke="#000" stroke-width="1.0"/></g>
<g transform="translate(24.3,206.7) rotate(-90)"><text transform="translate(-1.16,0.00) rotate(0.03) scale(0.876,1.0)" font-family="Liberation Serif" font-size="26" >Ω</text><path d="M25.5,-17.6H22.4V5.5H25.5" fill="none" stroke="#000" stroke-width="1.0"/><text transform="translate(26.05,0.00) rotate(0.03) scale(0.96,1.0)" font-family="Liberation Serif" font-size="24" >M</text><text transform="translate(47.18,0.00) rotate(0.03) scale(0.98,1.0)" font-family="Liberation Serif" font-size="24" >e</text><text transform="translate(56.93,0.00) rotate(0.03) scale(1.03,1.0)" font-family="Liberation Serif" font-size="24" >V</text><text transform="translate(74.16,-10.20) rotate(0.03) scale(1.09,1.0)" font-family="Liberation Serif" font-size="16.6" >4</text><path d="M83.2,-17.6H86.30000000000001V5.5H83.2" fill="none" stroke="#000" stroke-width="1.0"/></g>
<rect x="395.8" y="67.1" width="168.2" height="132.5" rx="5" ry="5" fill="none" stroke="#7c7c7c" stroke-width="1.5"/>
<text transform="translate(478.75,86.8) rotate(0.03) scale(0.975,1)" text-anchor="middle" font-family="Liberation Serif" font-size="14.2">Baryon chemical potential</text>
<line x1="432.4" x2="452.6" y1="99.80" y2="99.80" stroke="#808080" stroke-width="1.9"/>
<text transform="translate(458.0,103.50) rotate(0.03)" font-family="Liberation Sans" font-size="10" fill="#000" stroke="#000" stroke-width="0.1"><tspan font-style="italic">μ</tspan><tspan font-size="7.4" dy="2.0" dx="-0.5" fill="#444" stroke="none">B</tspan><tspan dy="-2.0" dx="0.6">=1000 [MeV]</tspan></text>
<line x1="432.4" x2="452.6" y1="120.25" y2="120.25" stroke="#0000ff" stroke-width="1.9"/>
<text transform="translate(458.0,123.95) rotate(0.03)" font-family="Liberation Sans" font-size="10" fill="#000" stroke="#000" stroke-width="0.1"><tspan font-style="italic">μ</tspan><tspan font-size="7.4" dy="2.0" dx="-0.5" fill="#444" stroke="none">B</tspan><tspan dy="-2.0" dx="0.6">=1050 [MeV]</tspan></text>
<line x1="432.4" x2="452.6" y1="140.70" y2="140.70" stroke="#ff8080" stroke-width="1.9"/>
<text transform="translate(458.0,144.40) rotate(0.03)" font-family="Liberation Sans" font-size="10" fill="#000" stroke="#000" stroke-width="0.1"><tspan font-style="italic">μ</tspan><tspan font-size="7.4" dy="2.0" dx="-0.5" fill="#444" stroke="none">B</tspan><tspan dy="-2.0" dx="0.6">=1100 [MeV]</tspan></text>
<line x1="432.4" x2="452.6" y1="161.15" y2="161.15" stroke="#ff0000" stroke-width="1.9"/>
<text transform="translate(458.0,164.85) rotate(0.03)" font-family="Liberation Sans" font-size="10" fill="#000" stroke="#000" stroke-width="0.1"><tspan font-style="italic">μ</tspan><tspan font-size="7.4" dy="2.0" dx="-0.5" fill="#444" stroke="none">B</tspan><tspan dy="-2.0" dx="0.6">=1150 [MeV]</tspan></text>
<line x1="432.4" x2="452.6" y1="181.60" y2="181.60" stroke="#800080" stroke-width="1.9"/>
<text transform="translate(458.0,185.30) rotate(0.03)" font-family="Liberation Sans" font-size="10" fill="#000" stroke="#000" stroke-width="0.1"><tspan font-style="italic">μ</tspan><tspan font-size="7.4" dy="2.0" dx="-0.5" fill="#444" stroke="none">B</tspan><tspan dy="-2.0" dx="0.6">=1200 [MeV]</tspan></text>
</svg>
</body></html>
